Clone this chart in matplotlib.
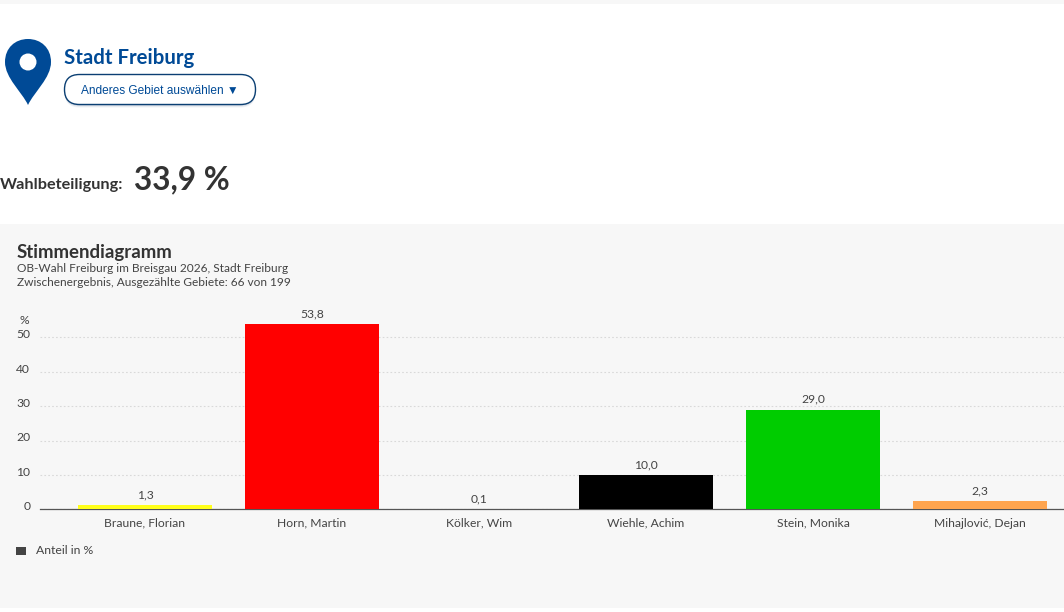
import matplotlib
matplotlib.use('Agg')
import matplotlib.pyplot as plt
from matplotlib.patches import Rectangle, FancyBboxPatch, PathPatch, Circle
from matplotlib.path import Path
from matplotlib.transforms import ScaledTranslation

W, H = 1064, 612

candidates = ['Braune, Florian', 'Horn, Martin', 'Kölker, Wim', 'Wiehle, Achim', 'Stein, Monika', 'Mihajlović, Dejan']
shares = [1.3, 53.8, 0.1, 10.0, 29.0, 2.3]
share_labels = ['1,3', '53,8', '0,1', '10,0', '29,0', '2,3']
bar_colors = ['#ffff1a', '#ff0000', '#f7f7f7', '#000000', '#00cc00', '#ffa54f']
y_ticks = [0, 10, 20, 30, 40, 50]

FONT = 'Lato'
BLUE = '#004a96'
DARK = '#333333'
GREY = '#444444'
PANEL = '#f7f7f7'

fig = plt.figure(figsize=(W / 100, H / 100), dpi=100, facecolor='white')

# page background in pixel coordinates
bg = fig.add_axes([0, 0, 1, 1])
bg.set_xlim(0, W)
bg.set_ylim(H, 0)
bg.axis('off')
bg.add_patch(Rectangle((0, 0), W, 3.5, fc=PANEL, ec='none'))
bg.add_patch(Rectangle((0, 224), W, 384, fc=PANEL, ec='none'))

# map pin
pin = Path([(28, 105), (22, 92), (5, 78), (5, 62), (5, 48), (15, 39), (28, 39),
            (41, 39), (51, 48), (51, 62), (51, 78), (34, 92), (28, 105), (28, 105)],
           [Path.MOVETO, Path.CURVE4, Path.CURVE4, Path.CURVE4, Path.CURVE4, Path.CURVE4, Path.CURVE4,
            Path.CURVE4, Path.CURVE4, Path.CURVE4, Path.CURVE4, Path.CURVE4, Path.CURVE4, Path.CLOSEPOLY])
bg.add_patch(PathPatch(pin, fc=BLUE, ec='none'))
bg.add_patch(Circle((28, 62), 8.5, fc='white', ec='none'))

bg.text(64, 58, 'Stadt Freiburg', color=BLUE, fontsize=14.7, fontweight='bold', family=FONT,
        ha='left', va='center')

# button with a soft shadow
for dy, a in [(3, 0.12), (2, 0.2), (1, 0.3)]:
    bg.add_patch(FancyBboxPatch((64.5, 74.5 + dy), 191, 30, boxstyle='round,pad=0,rounding_size=15',
                                fc='#8fa3ba', ec='none', alpha=a))
bg.add_patch(FancyBboxPatch((64.5, 74.5), 191, 30, boxstyle='round,pad=0,rounding_size=15',
                            fc='white', ec='#0b3f73', lw=1.0))
bg.text(81, 90.8, 'Anderes Gebiet auswählen ▼', color=BLUE, fontsize=8.6,
        family=['Liberation Sans', 'DejaVu Sans'], ha='left', va='center')

bg.text(0, 185, 'Wahlbeteiligung:', color=DARK, fontsize=11.7, fontweight='bold', family=FONT,
        ha='left', va='center')
bg.text(134, 179.5, '33,9 %', color=DARK, fontsize=22.8, fontweight='bold', family=FONT,
        ha='left', va='center')

bg.text(17, 252.5, 'Stimmendiagramm', color=DARK, fontsize=13.4, fontweight='bold', family=FONT,
        ha='left', va='center')
bg.text(17, 268, 'OB-Wahl Freiburg im Breisgau 2026, Stadt Freiburg', color=GREY, fontsize=8.6,
        family=FONT, ha='left', va='center')
bg.text(17, 282, 'Zwischenergebnis, Ausgezählte Gebiete: 66 von 199', color=GREY, fontsize=8.6,
        family=FONT, ha='left', va='center')

# chart area: x 40..1064, baseline at y=509.3, 3.44 px per percent
ax_left, ax_right, ax_top, ax_bottom = 40, 1064, 309.3, 509.3
ax = fig.add_axes([ax_left / W, 1 - ax_bottom / H, (ax_right - ax_left) / W, (ax_bottom - ax_top) / H])
ax.patch.set_alpha(0)
ax.set_xlim((ax_left - 145) / 167, (ax_right - 145) / 167)
ax.set_ylim(0, (ax_bottom - ax_top) / 3.44)
positions = list(range(len(candidates)))
bars = ax.bar(positions, shares, width=0.8, color=bar_colors, zorder=3)
for x, v, t in zip(positions, shares, share_labels):
    ax.annotate(t, (x, v), xytext=(0, 3.5), textcoords='offset points', ha='center', va='bottom',
                fontsize=8.7, color=GREY, family=FONT)

ax.set_yticks(y_ticks)
ax.set_xticks(positions)
ax.set_xticklabels(candidates, family=FONT, fontsize=8.7, color=GREY, va='baseline')
ax.set_yticklabels([str(t) for t in y_ticks], family=FONT, fontsize=8.7, color=GREY)
ax.tick_params(axis='both', length=0)
ax.tick_params(axis='x', pad=12.3)
ax.tick_params(axis='y', pad=7)
# y labels sit a little above their grid lines
lift = ScaledTranslation(0, 3.6 / 100, fig.dpi_scale_trans)
for label in ax.get_yticklabels():
    label.set_transform(label.get_transform() + lift)
# the j in this name makes the text land a pixel high
drop = ScaledTranslation(0, -1 / 100, fig.dpi_scale_trans)
last_label = ax.get_xticklabels()[-1]
last_label.set_transform(last_label.get_transform() + drop)
ax.grid(axis='y', color='#d9d9d9', lw=0.8, linestyle=(0, (1.5, 2)), zorder=0)
ax.set_axisbelow(True)
for name in ['top', 'right', 'left']:
    ax.spines[name].set_visible(False)
ax.spines['bottom'].set_color('#555555')
ax.spines['bottom'].set_linewidth(0.9)

bg.text(24.5, 320, '%', color=GREY, fontsize=8.7, family=FONT, ha='center', va='center')

# legend
bg.add_patch(Rectangle((16, 546.7), 10, 8.3, fc=GREY, ec='none'))
bg.text(36, 551, 'Anteil in %', color=GREY, fontsize=8.8, family=FONT, ha='left', va='center')

fig.savefig('out.png', dpi=100, facecolor='white')
